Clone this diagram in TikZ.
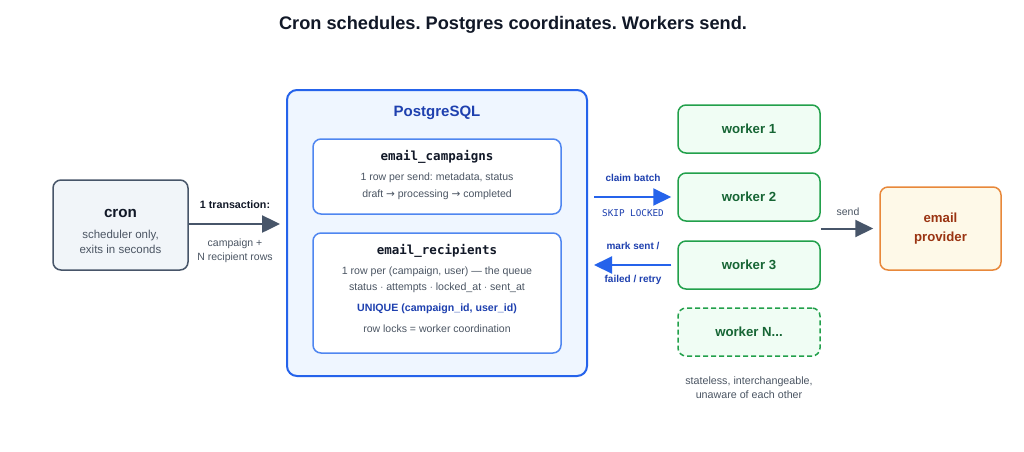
\documentclass[tikz,border=0pt]{standalone}
\usepackage{fontspec}
\setmainfont{Liberation Sans}
\setmonofont{DejaVu Sans Mono}
\newfontfamily\arrowfont{DejaVu Sans}
\usepackage{xcolor}
\usetikzlibrary{arrows.meta,positioning}
\frenchspacing

\definecolor{ink}{HTML}{111827}
\definecolor{slate}{HTML}{475569}
\definecolor{slatebg}{HTML}{F1F5F9}
\definecolor{greytxt}{HTML}{4B5563}
\definecolor{pgblue}{HTML}{2563EB}
\definecolor{pgbg}{HTML}{EFF6FF}
\definecolor{pgdark}{HTML}{1E40AF}
\definecolor{tblblue}{HTML}{4F86F0}
\definecolor{wgreen}{HTML}{22A04B}
\definecolor{wbg}{HTML}{F0FDF4}
\definecolor{wdark}{HTML}{166534}
\definecolor{orng}{HTML}{E8883A}
\definecolor{orngbg}{HTML}{FEF9E8}
\definecolor{brown}{HTML}{9A3412}

\newcommand{\fs}[2]{\fontsize{#1}{#2}\selectfont}
\newcommand{\rarr}{{\arrowfont\char"2192}}

\begin{document}
\begin{tikzpicture}[x=1pt,y=-1pt,>={Triangle[length=18pt,width=17pt]}]
  \tikzstyle{box}=[rectangle,rounded corners=8pt,inner sep=0pt,align=center]
  \tikzstyle{txt}=[inner sep=0pt,align=center,text=greytxt,font=\fs{10.5}{15}]
  \tikzstyle{lbl}=[inner sep=0pt,align=center,font=\fs{10}{14}\bfseries]
  \tikzstyle{worker}=[box,draw=wgreen,fill=wbg,line width=1.5pt,minimum width=142pt,minimum height=48pt,text=wdark,font=\fs{13.2}{17}\bfseries]
  \tikzstyle{tbl}=[box,draw=tblblue,fill=white,line width=1.5pt,minimum width=248pt]

  \useasboundingbox[fill=white] (0,0) rectangle (1024,451);

  \node[inner sep=0pt,text=ink,font=\fs{18.2}{21}\bfseries] (title) at (513,25)
    {Cron schedules. Postgres coordinates. Workers send.};

  % cron
  \node[box,draw=slate,fill=slatebg,line width=1.5pt,minimum width=135pt,minimum height=90pt] (cron) at (120.5,225) {};
  \node[inner sep=0pt,text=ink,font=\fs{15.2}{19}\bfseries] (cronT) at (120.5,213) {cron};
  \node[txt,font=\fs{11.5}{15}] (cronS) at (120.5,242) {scheduler only,\\exits in seconds};

  % postgres
  \node[box,rounded corners=10pt,draw=pgblue,fill=pgbg,line width=2pt,minimum width=300pt,minimum height=286pt] (pg) at (437,233) {};
  \node[inner sep=0pt,text=pgdark,font=\fs{15}{19}\bfseries] (pgT) at (437,113) {PostgreSQL};

  \node[tbl,minimum height=75pt] (camp) at (437,176.5) {};
  \node[inner sep=0pt,font=\fs{12.5}{15}\ttfamily\bfseries,text=ink] (campT) at (437,157) {email\_campaigns};
  \node[txt,font=\fs{10.5}{17}] (campS) at (437,186.5) {1 row per send: metadata, status\\draft \rarr{} processing \rarr{} completed};

  \node[tbl,minimum height=120pt] (rec) at (437,293) {};
  \node[inner sep=0pt,font=\fs{12.5}{15}\ttfamily\bfseries,text=ink] (recT) at (437,251) {email\_recipients};
  \node[txt,font=\fs{10.6}{16}] (recS) at (437,280) {1 row per (campaign, user) --- the queue\\status $\cdot$ attempts $\cdot$ locked\_at $\cdot$ sent\_at};
  \node[lbl,text=pgdark,font=\fs{10.6}{14}\bfseries] (recU) at (437,309) {UNIQUE (campaign\_id, user\_id)};
  \node[txt] (recL) at (437,329) {row locks = worker coordination};

  % workers
  \node[worker] (w1) at (749,129) {worker 1};
  \node[worker] (w2) at (749,197) {worker 2};
  \node[worker] (w3) at (749,265) {worker 3};
  \node[worker,dashed,dash pattern=on 5pt off 3pt] (wn) at (749,332) {worker N...};
  \node[txt,font=\fs{10.7}{14}] (wnote) at (749,388) {stateless, interchangeable,\\unaware of each other};

  % provider
  \node[box,draw=orng,fill=orngbg,line width=1.5pt,minimum width=121pt,minimum height=83pt,text=brown,font=\fs{13.2}{19}\bfseries] (prov) at (940.5,228.5) {email\\provider};

  % connectors
  \draw[->,slate,line width=2.5pt,shorten >=6pt] (cron.east |- 0,224) -- (pg.west |- 0,224);
  \node[lbl,text=ink,font=\fs{10.7}{14}\bfseries] (txL) at (235,205) {1 transaction:};
  \node[txt,font=\fs{10.5}{14}] (txS) at (235,251) {campaign +\\N recipient rows};

  \draw[->,pgblue,line width=2pt,shorten <=6pt,shorten >=6pt] (w2.west -| pg.east) -- (w2.west);
  \node[lbl,text=pgdark] (claimL) at (633,178) {claim batch};
  \node[inner sep=0pt,text=pgdark,font=\fs{9.3}{12}\ttfamily] (claimS) at (633,213) {SKIP LOCKED};

  \draw[->,pgblue,line width=2pt,shorten <=6pt,shorten >=6pt] (w3.west) -- (w3.west -| pg.east);
  \node[lbl,text=pgdark] (markL) at (633,246) {mark sent /};
  \node[lbl,text=pgdark] (markS) at (633,280) {failed / retry};

  \draw[->,slate,line width=2pt,shorten >=6pt] (prov.west -| w2.east) -- (prov.west);
  \node[inner sep=0pt,text=greytxt,font=\fs{10.5}{12}] (sendL) at (848,212) {send};
\end{tikzpicture}
\end{document}
